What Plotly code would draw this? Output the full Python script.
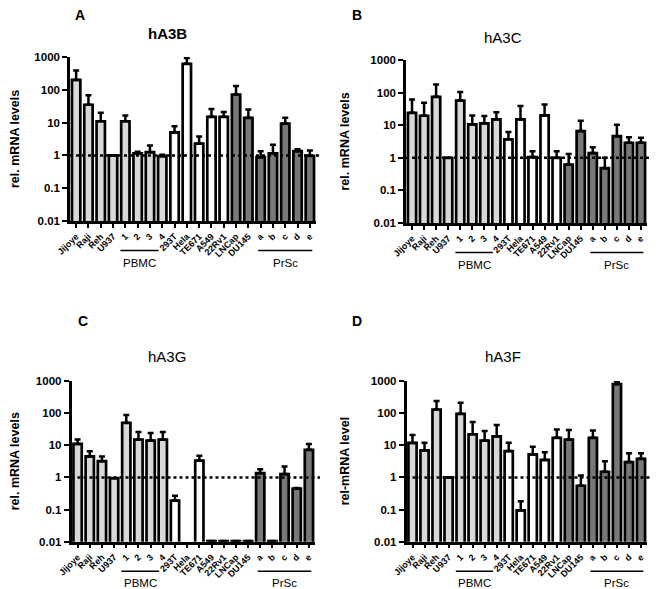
import plotly.graph_objects as go

categories = ["Jijoye", "Raji", "Reh", "U937", "1", "2", "3", "4", "293T", "Hela",
              "TE671", "A549", "22Rv1", "LNCap", "DU145", "a", "b", "c", "d", "e"]
group_of = ["cell"] * 4 + ["PBMC"] * 4 + ["line"] * 5 + ["prostate"] * 2 + ["PrSc"] * 5

hA3B_vals = [200, 35, 11, 1.0, 11, 1.15, 1.25, 0.95, 5, 620, 2.3, 15, 15, 72, 14, 0.88, 1.15, 9.3, 1.35, 0.97]
hA3B_err = [190, 33, 9, 0, 5.5, 0.15, 0.75, 0.1, 2.8, 310, 1.5, 11, 6, 58, 11, 0.47, 0.95, 4.7, 0.2, 0.43]

hA3C_vals = [24, 19.5, 74, 1.0, 57, 10.6, 11.4, 15, 3.7, 15, 1.05, 20, 1.0, 0.62, 6.6, 1.4, 0.48, 4.6, 2.9, 2.9]
hA3C_err = [37, 29.5, 103, 0, 48, 9.4, 7.6, 10, 2.5, 24, 0.55, 23, 0.6, 0.68, 7.2, 0.7, 0.52, 5.8, 1.4, 1.2]

hA3G_vals = [11, 4.5, 3.2, 0.95, 50, 15, 14, 15, 0.19, None, 3.35, 0.0105, 0.0105, 0.0105, 0.0105,
             1.36, 0.0105, 1.27, 0.45, 7.2]
hA3G_err = [4, 2, 1.3, 0, 37, 11, 10, 11, 0.08, 0, 1.35, 0, 0, 0, 0, 0.44, 0, 0.93, 0.02, 3.8]

hA3F_vals = [11.8, 6.9, 130, 1.0, 95, 22, 14, 19, 6.6, 0.095, 5.2, 3.5, 17, 15, 0.55, 17, 1.5, 800, 3.0, 3.8]
hA3F_err = [9.2, 5.1, 110, 0, 115, 31, 14, 24, 5.4, 0.085, 3.8, 2.6, 14, 15, 0.6, 12, 1.7, 150, 2.6, 1.8]

ytickvals = [0.01, 0.1, 1, 10, 100, 1000]
yticktext = ["0.01", "0.1", "1", "10", "100", "1000"]

W, H = 661, 589
OFF = 8  # page body margin
FONT = "Liberation Sans, Arial, sans-serif"


def px_x(p):
    return (p - OFF) / W


def px_y(p):
    return 1 - (p - OFF) / H


fill_map = {"cell": "#d8d8d8", "PBMC": "#d8d8d8", "line": "#ffffff", "prostate": "#787878", "PrSc": "#787878"}
colors = [fill_map[g] for g in group_of]

panels = [
    ("A", "hA3B", True, hA3B_vals, hA3B_err, "rel. mRNA levels", (70, 316), (57, 221), (80, 15), (167, 34), 15),
    ("B", "hA3C", False, hA3C_vals, hA3C_err, "rel. mRNA levels", (406, 647), (60, 223), (357, 15), (503, 37), 345),
    ("C", "hA3G", False, hA3G_vals, hA3G_err, "rel. mRNA levels", (71.5, 315), (381, 541.7), (83, 321), (167, 356), 15),
    ("D", "hA3F", False, hA3F_vals, hA3F_err, "rel-mRNA level", (406.5, 647), (381, 541.7), (357, 321), (503, 356), 345),
]

fig = go.Figure()
shapes = []
annotations = []
layout_axes = {}

for i, (letter, title, tbold, vals, err, ytitle, xpx, ypx, lpos, tpos, ytx) in enumerate(panels):
    n = i + 1
    xa = "x" if n == 1 else f"x{n}"
    ya = "y" if n == 1 else f"y{n}"
    xdom = [px_x(xpx[0]), px_x(xpx[1])]
    ydom = [px_y(ypx[1]), px_y(ypx[0])]
    fig.add_trace(go.Bar(
        x=categories, y=vals, xaxis=xa, yaxis=ya,
        marker=dict(color=colors, line=dict(color="black", width=2.7)),
        error_y=dict(type="data", array=err, arrayminus=[0] * len(err), symmetric=False,
                     color="black", thickness=2.5, width=3),
        cliponaxis=False, showlegend=False,
    ))
    layout_axes["xaxis" if n == 1 else f"xaxis{n}"] = dict(
        domain=xdom, anchor=ya, type="category", range=[-0.5, len(categories) - 0.5],
        automargin=False,
        showline=True, linecolor="black", linewidth=2.5,
        ticks="outside", ticklen=4, tickwidth=1.5, tickcolor="black",
        tickangle=-45, tickfont=dict(family=FONT, size=9, color="black", weight="bold"),
        showgrid=False, zeroline=False, fixedrange=True,
    )
    layout_axes["yaxis" if n == 1 else f"yaxis{n}"] = dict(
        domain=ydom, anchor=xa, type="log", range=[-2, 3], automargin=False,
        tickvals=ytickvals, ticktext=yticktext,
        showline=True, linecolor="black", linewidth=2.5,
        ticks="outside", ticklen=5, tickwidth=2, tickcolor="black",
        tickfont=dict(family=FONT, size=11.5, color="black", weight="bold"),
        showgrid=False, zeroline=False,
    )
    annotations.append(dict(text=f"<b>{ytitle}</b>", xref="paper", yref="paper", x=px_x(ytx),
                            y=(ydom[0] + ydom[1]) / 2, textangle=-90, showarrow=False,
                            xanchor="center", yanchor="middle",
                            font=dict(family=FONT, size=12.5, color="black")))
    y1 = ydom[0] + (0 - (-2)) / 5 * (ydom[1] - ydom[0])
    shapes.append(dict(type="line", xref="paper", yref="paper", x0=xdom[0], x1=xdom[1] + 5 / W,
                       y0=y1, y1=y1, line=dict(color="black", width=2.5, dash="dot")))

    def idx_to_paper(v):
        return xdom[0] + (v + 0.5) / len(categories) * (xdom[1] - xdom[0])

    line_y = px_y(ypx[1] + 29.5)
    text_y = px_y(ypx[1] + 41.5)
    for name, a, b in (("PBMC", 3.6, 6.7), ("PrSc", 14.8, 19.2)):
        shapes.append(dict(type="line", xref="paper", yref="paper", x0=idx_to_paper(a), x1=idx_to_paper(b),
                           y0=line_y, y1=line_y, line=dict(color="black", width=1.5)))
        annotations.append(dict(text=name, xref="paper", yref="paper", x=(idx_to_paper(a) + idx_to_paper(b)) / 2,
                                y=text_y, showarrow=False, xanchor="center", yanchor="middle",
                                font=dict(family=FONT, size=11.5, color="black")))
    annotations.append(dict(text=f"<b>{letter}</b>", xref="paper", yref="paper", x=px_x(lpos[0]), y=px_y(lpos[1]),
                            showarrow=False, xanchor="center", yanchor="middle",
                            font=dict(family=FONT, size=14, color="black")))
    annotations.append(dict(text=(f"<b>{title}</b>" if tbold else title), xref="paper", yref="paper",
                            x=px_x(tpos[0]), y=px_y(tpos[1]),
                            showarrow=False, xanchor="center", yanchor="middle",
                            font=dict(family=FONT, size=15, color="black")))

fig.update_layout(
    width=W, height=H, margin=dict(l=0, r=0, t=0, b=0, autoexpand=False),
    paper_bgcolor="white", plot_bgcolor="white",
    bargap=0.32, shapes=shapes, annotations=annotations,
    **layout_axes,
)

fig.write_html("out.html")
